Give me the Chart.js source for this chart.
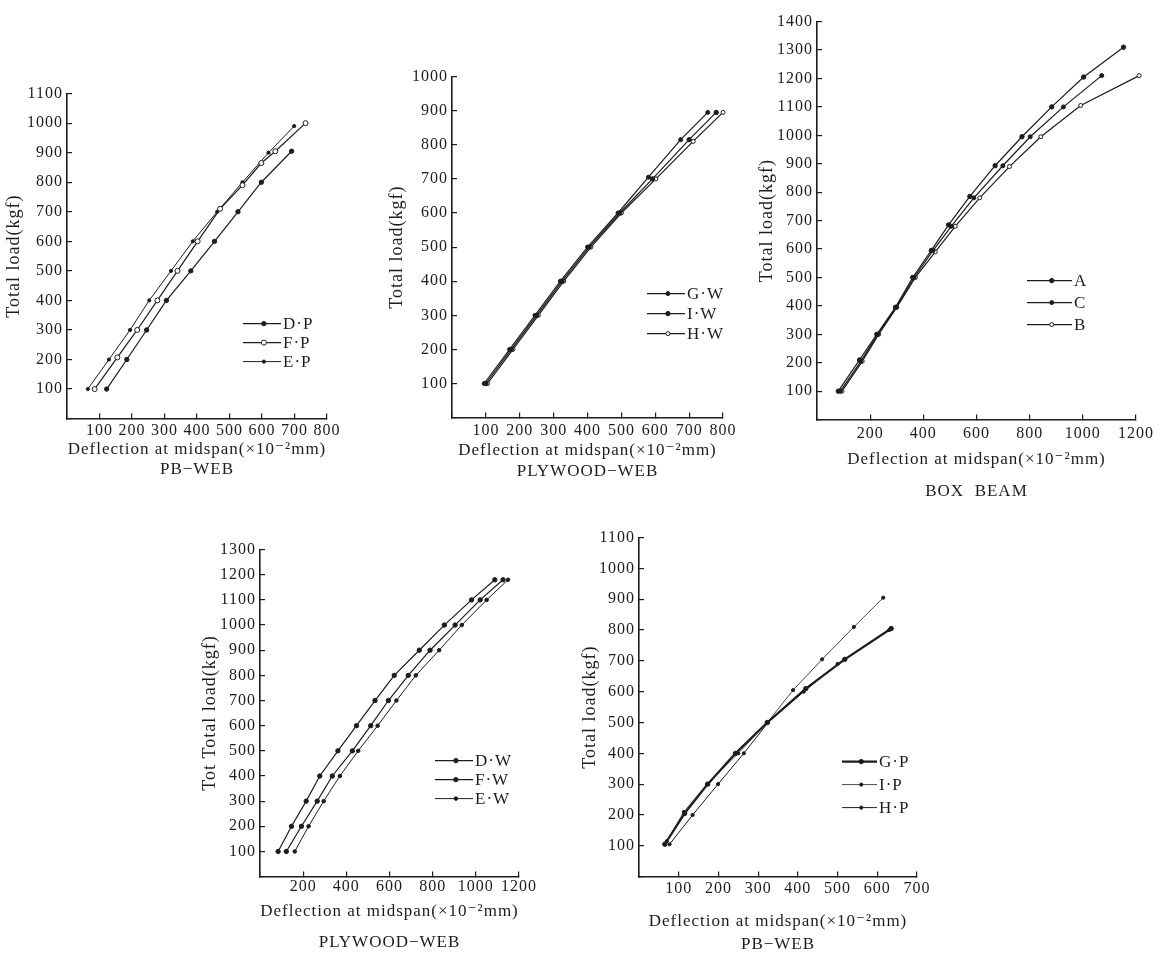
<!DOCTYPE html>
<html>
<head>
<meta charset="utf-8">
<script src="https://cdn.jsdelivr.net/npm/chart.js@4.4.0/dist/chart.umd.min.js"></script>
<style>
  body { margin: 0; background: #fff; width: 1168px; height: 957px; overflow: hidden; }
  canvas { position: absolute; }
</style>
</head>
<body>
<script>
// ---- data (deflection x10^-2 mm, total load kgf) ----
// PB-WEB (top left)
const dpDefl = [122, 184, 245, 306, 381, 454, 526, 598, 691];
const dpLoad = [100, 200, 300, 400, 500, 600, 700, 800, 905];
const fpDefl = [85, 155, 216, 278, 340, 402, 471, 540, 598, 641, 734];
const fpLoad = [100, 207, 300, 400, 500, 600, 710, 790, 865, 905, 1000];
const epDefl = [64, 129, 194, 253, 320, 387, 462, 540, 620, 699];
const epLoad = [100, 200, 300, 400, 500, 600, 700, 800, 900, 990];

// PLYWOOD-WEB (top middle)
const gwDefl = [95, 170, 245, 320, 400, 490, 580, 675, 755];
const gwLoad = [100, 200, 300, 400, 500, 600, 705, 815, 895];
const iwDefl = [100, 175, 250, 325, 405, 495, 592, 700, 780];
const iwLoad = [100, 200, 300, 400, 500, 600, 700, 815, 895];
const hwDefl = [105, 180, 255, 330, 410, 500, 602, 712, 800];
const hwLoad = [100, 200, 300, 400, 500, 600, 700, 810, 895];

// BOX BEAM (top right)
const aDefl = [80, 160, 225, 295, 360, 430, 495, 575, 670, 771, 883, 1003, 1153];
const aLoad = [100, 210, 300, 395, 500, 595, 685, 785, 893, 995, 1100, 1205, 1310];
const cDefl = [88, 165, 228, 298, 365, 437, 505, 590, 699, 802, 927, 1071];
const cLoad = [100, 205, 300, 395, 500, 595, 680, 780, 893, 995, 1100, 1210];
const bDefl = [94, 170, 232, 300, 370, 445, 520, 612, 724, 842, 992, 1212];
const bLoad = [100, 205, 300, 395, 500, 590, 680, 780, 890, 995, 1105, 1210];

// PLYWOOD-WEB (bottom left)
const wLoads = [100, 200, 300, 400, 500, 600, 700, 800, 900, 1000, 1100, 1180];
const dwDefl = [84, 146, 214, 277, 361, 447, 533, 622, 738, 854, 980, 1088];
const fwDefl = [122, 192, 265, 335, 428, 513, 595, 687, 788, 904, 1020, 1126];
const ewDefl = [161, 225, 295, 370, 455, 545, 632, 722, 830, 935, 1050, 1149];

// PB-WEB (bottom right)
const gpDefl = [65, 115, 173, 243, 323, 420, 518, 635];
const gpLoad = [105, 205, 300, 400, 500, 610, 705, 805];
const ipDefl = [70, 113, 171, 250, 323, 388, 461, 541, 615];
const ipLoad = [115, 210, 300, 400, 500, 605, 705, 810, 905];
const hpDefl = [77, 135, 199, 264, 325, 415, 500, 630];
const hpLoad = [105, 200, 300, 400, 500, 600, 690, 800];

const defTitle = 'Deflection at midspan(\u00d710\u207b\u00b2mm)';

// ---- drawing ----
const ink = '#1c1c1c';
const serif = '"Liberation Serif", "DejaVu Serif", serif';
Chart.defaults.color = ink;
Chart.defaults.font.family = serif;

function pts(xs, ys) {
  return xs.map((x, i) => ({ x: x, y: ys[i] }));
}

function series(label, xs, ys, st) {
  st = st || {};
  return {
    label: label,
    data: pts(xs, ys),
    borderColor: ink,
    borderWidth: st.w || 1.2,
    pointRadius: st.r || 2,
    pointBackgroundColor: st.open ? '#fff' : ink,
    pointBorderColor: ink,
    pointBorderWidth: 1,
    tension: 0,
    clip: false
  };
}

// the scanned print has wide letter spacing
const spacing = {
  id: 'spacing',
  beforeInit(chart) { chart.ctx.letterSpacing = '1px'; },
  beforeDraw(chart) { chart.ctx.letterSpacing = '1px'; }
};

// legend drawn inside the plot area
const insideLegend = {
  id: 'insideLegend',
  afterDatasetsDraw(chart, args, o) {
    const { ctx, chartArea } = chart;
    const x0 = chartArea.left + o.dx;
    const y0 = chartArea.top + o.dy;
    ctx.save();
    chart.data.datasets.forEach((ds, i) => {
      const y = y0 + i * o.gap;
      ctx.strokeStyle = ink;
      ctx.lineWidth = ds.borderWidth;
      ctx.beginPath();
      ctx.moveTo(x0, y);
      ctx.lineTo(x0 + o.len, y);
      ctx.stroke();
      ctx.beginPath();
      ctx.arc(x0 + o.len * 0.55, y, ds.pointRadius, 0, Math.PI * 2);
      ctx.fillStyle = ds.pointBackgroundColor;
      ctx.fill();
      ctx.lineWidth = 1;
      ctx.stroke();
      ctx.fillStyle = ink;
      ctx.font = '17px ' + serif;
      ctx.textBaseline = 'middle';
      ctx.fillText(ds.label, x0 + o.len + 2, y + 1);
    });
    ctx.restore();
  }
};

function build(area, p, datasets) {
  const padTop = 10, padRight = 26, padBottom = 2;
  const titleH = 17 * 1.2 + p.subPad;
  const left = area.l - p.yW;
  const top = area.t - padTop;
  const w = area.r + padRight - left;
  const h = area.b + p.xH + titleH + padBottom - top;
  const cv = document.createElement('canvas');
  cv.width = Math.round(w);
  cv.height = Math.round(h);
  cv.style.left = left + 'px';
  cv.style.top = top + 'px';
  document.body.appendChild(cv);

  const hide0 = v => (v === 0 ? '' : String(v));
  new Chart(cv, {
    type: 'line',
    data: { datasets: datasets },
    plugins: [spacing, insideLegend],
    options: {
      responsive: false,
      animation: false,
      layout: { padding: { top: padTop, right: padRight, bottom: padBottom, left: 0 } },
      plugins: {
        legend: { display: false },
        tooltip: { enabled: false },
        title: {
          display: true,
          text: p.sub,
          position: 'bottom',
          fullSize: false,
          color: ink,
          font: { size: 17, weight: 'normal' },
          padding: { top: p.subPad, bottom: 0 }
        },
        insideLegend: p.legend
      },
      scales: {
        x: {
          type: 'linear',
          min: 0,
          max: p.xMax,
          ticks: { stepSize: p.xStep, padding: p.xPad, autoSkip: false, maxRotation: 0,
                   font: { size: 16 }, color: ink, callback: hide0 },
          grid: { drawOnChartArea: false, tickLength: -5, color: ink, lineWidth: 1.2 },
          border: { color: ink, width: 1.6 },
          title: { display: true, text: defTitle, color: ink, font: { size: 17 },
                   padding: { top: 0, bottom: 0 } },
          afterFit: s => { s.height = p.xH; }
        },
        y: {
          type: 'linear',
          min: 0,
          max: p.yMax,
          ticks: { stepSize: 100, padding: 9, autoSkip: false, font: { size: 16 }, color: ink,
                   callback: hide0 },
          grid: { drawOnChartArea: false, tickLength: -5, color: ink, lineWidth: 1.2 },
          border: { color: ink, width: 1.6 },
          title: { display: true, text: p.yTitle, color: ink, font: { size: 18 },
                   padding: { top: 2, bottom: 0 } },
          afterFit: s => { s.width = p.yW; }
        }
      }
    }
  });
}

// top left: PB-WEB
build({ l: 67, t: 85, r: 327, b: 419 },
  { yW: 66, xH: 41, subPad: 0, xPad: 8, xMax: 800, xStep: 100, yMax: 1100,
    yTitle: 'Total load(kgf)', sub: 'PB\u2212WEB',
    legend: { dx: 176, dy: 230, gap: 19, len: 38 } },
  [series('D\u00b7P', dpDefl, dpLoad, { r: 2.2 }),
   series('F\u00b7P', fpDefl, fpLoad, { r: 2.5, open: true }),
   series('E\u00b7P', epDefl, epLoad, { r: 1.6, w: 1 })]);

// top middle: PLYWOOD-WEB
build({ l: 452, t: 68, r: 723, b: 418 },
  { yW: 68, xH: 43, subPad: 1, xPad: 9, xMax: 800, xStep: 100, yMax: 1000,
    yTitle: 'Total load(kgf)', sub: 'PLYWOOD\u2212WEB',
    legend: { dx: 195, dy: 217, gap: 20, len: 38 } },
  [series('G\u00b7W', gwDefl, gwLoad, { r: 2 }),
   series('I\u00b7W', iwDefl, iwLoad, { r: 2.2 }),
   series('H\u00b7W', hwDefl, hwLoad, { r: 2, open: true })]);

// top right: BOX BEAM
build({ l: 817, t: 13, r: 1136, b: 420 },
  { yW: 63, xH: 50, subPad: 12, xPad: 10, xMax: 1200, xStep: 200, yMax: 1400,
    yTitle: 'Total load(kgf)', sub: 'BOX  BEAM',
    legend: { dx: 210, dy: 259, gap: 22, len: 45 } },
  [series('A', aDefl, aLoad, { r: 2.2 }),
   series('C', cDefl, cLoad, { r: 2 }),
   series('B', bDefl, bLoad, { r: 2, open: true })]);

// bottom left: PLYWOOD-WEB
build({ l: 260, t: 541, r: 519, b: 877 },
  { yW: 63, xH: 45, subPad: 11, xPad: 6, xMax: 1200, xStep: 200, yMax: 1300,
    yTitle: 'Tot Total load(kgf)', sub: 'PLYWOOD\u2212WEB',
    legend: { dx: 175, dy: 211, gap: 19, len: 38 } },
  [series('D\u00b7W', dwDefl, wLoads, { r: 2.2 }),
   series('F\u00b7W', fwDefl, wLoads, { r: 2.2 }),
   series('E\u00b7W', ewDefl, wLoads, { r: 1.8, w: 1 })]);

// bottom right: PB-WEB
build({ l: 639, t: 529, r: 917, b: 877 },
  { yW: 62, xH: 55, subPad: 3, xPad: 8, xMax: 700, xStep: 100, yMax: 1100,
    yTitle: 'Total load(kgf)', sub: 'PB\u2212WEB',
    legend: { dx: 203, dy: 224, gap: 23, len: 35 } },
  [series('G\u00b7P', gpDefl, gpLoad, { r: 2.2, w: 2.2 }),
   series('I\u00b7P', ipDefl, ipLoad, { r: 1.6, w: 0.8 }),
   series('H\u00b7P', hpDefl, hpLoad, { r: 1.6, w: 1 })]);
</script>
</body>
</html>
